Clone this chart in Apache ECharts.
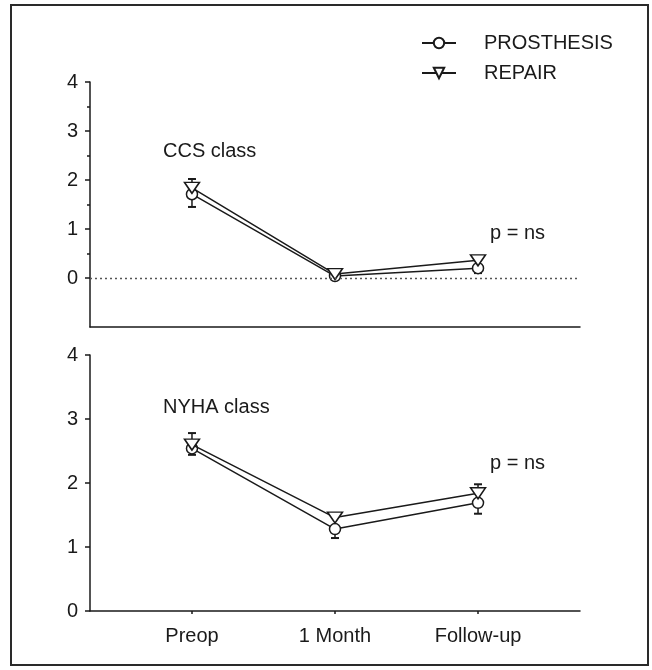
<!DOCTYPE html>
<html><head><meta charset="utf-8">
<script src="https://cdn.jsdelivr.net/npm/echarts@6/dist/echarts.min.js"></script>
<style>html,body{margin:0;padding:0;background:#fff}#c{width:652px;height:670px}</style>
</head><body><div id="c"></div>
<script>
const categories = ['Preop', '1 Month', 'Follow-up'];
const yTickValues = [0, 1, 2, 3, 4];
const yMinorTickValues = [0.5, 1.5, 2.5, 3.5];
const seriesNames = ['PROSTHESIS', 'REPAIR'];
const ccsProsthesis = [1.71, 0.04, 0.20];
const ccsProsthesisErr = [0.26, 0.03, 0.10];
const ccsRepair = [1.84, 0.08, 0.36];
const ccsRepairErr = [0.18, 0.03, 0.08];
const nyhaProsthesis = [2.54, 1.28, 1.69];
const nyhaProsthesisErr = [0.10, 0.14, 0.17];
const nyhaRepair = [2.60, 1.46, 1.84];
const nyhaRepairErr = [0.18, 0.05, 0.14];
const panelLabels = ['CCS class', 'NYHA class'];
const pLabel = 'p = ns';

const FONT = '"Liberation Sans", Arial, sans-serif';
const INK = '#1a1a1a';

const chart = echarts.init(document.getElementById('c'), null, {renderer: 'canvas'});

function pts(vals) { return categories.map((c, i) => [i, vals[i]]); }
function errPts(vals, errs, sign) { return categories.map((c, i) => [i, vals[i], sign * errs[i]]); }

function errRender(params, api) {
  const x = api.value(0), y = api.value(1), e = api.value(2);
  const p0 = api.coord([x, y]);
  const p1 = api.coord([x, y + e]);
  const hw = 4;
  return {
    type: 'group',
    children: [
      {type: 'line', shape: {x1: p0[0], y1: p0[1], x2: p1[0], y2: p1[1]}, style: {stroke: INK, lineWidth: 1.5}},
      {type: 'line', shape: {x1: p1[0] - hw, y1: p1[1], x2: p1[0] + hw, y2: p1[1]}, style: {stroke: INK, lineWidth: 2}}
    ]
  };
}

function lineSeries(name, vals, gi, extra) {
  const isRepair = name === 'REPAIR';
  return Object.assign({
    name: name,
    type: 'line',
    xAxisIndex: gi, yAxisIndex: gi * 2,
    data: pts(vals),
    symbol: isRepair ? 'triangle' : 'circle',
    symbolRotate: isRepair ? 180 : 0,
    symbolSize: isRepair ? [15, 11] : 11,
    showAllSymbol: true,
    z: isRepair ? 4 : 3,
    itemStyle: {color: '#fff', borderColor: INK, borderWidth: 1.5},
    lineStyle: {color: INK, width: 1.5},
    emphasis: {disabled: true},
    animation: false
  }, extra || {});
}

function errSeries(vals, errs, sign, gi) {
  return {
    type: 'custom',
    xAxisIndex: gi, yAxisIndex: gi * 2,
    renderItem: errRender,
    data: errPts(vals, errs, sign),
    encode: {x: 0, y: 1},
    z: 2,
    silent: true,
    animation: false
  };
}

const xBase = {
  type: 'value', min: -0.713, max: 2.713,
  splitLine: {show: false},
  axisLine: {onZero: false, lineStyle: {color: INK, width: 1.5}}
};

const yBase = {
  type: 'value',
  position: 'left',
  splitLine: {show: false},
  axisLine: {onZero: false, show: true, lineStyle: {color: INK, width: 1.5}},
  axisTick: {show: true, length: 5, lineStyle: {color: INK, width: 1.5}, customValues: yTickValues},
  axisLabel: {customValues: yTickValues, fontSize: 20, fontFamily: FONT, color: INK, margin: 12}
};

const option = {
  backgroundColor: '#fff',
  animation: false,
  grid: [
    {left: 90, top: 82, width: 490, height: 245},
    {left: 90, top: 355, width: 490, height: 256}
  ],
  xAxis: [
    Object.assign({}, xBase, {gridIndex: 0, axisTick: {show: false}, axisLabel: {show: false}}),
    Object.assign({}, xBase, {
      gridIndex: 1,
      axisTick: {show: true, length: 3, lineStyle: {color: INK, width: 1.5}, customValues: [0, 1, 2]},
      axisLabel: {customValues: [0, 1, 2], formatter: v => categories[Math.round(v)] || '', fontSize: 20, fontFamily: FONT, color: INK, margin: 15}
    })
  ],
  yAxis: [
    Object.assign({}, yBase, {gridIndex: 0, min: -1, max: 4}),
    {type: 'value', gridIndex: 0, position: 'left', min: -1, max: 4, splitLine: {show: false},
     axisLine: {show: false, onZero: false},
     axisTick: {show: true, length: 3, lineStyle: {color: INK, width: 1.5}, customValues: yMinorTickValues},
     axisLabel: {show: false}},
    Object.assign({}, yBase, {gridIndex: 1, min: 0, max: 4}),
    {type: 'value', gridIndex: 1, position: 'left', min: 0, max: 4, show: false}
  ],
  legend: {
    data: seriesNames,
    orient: 'vertical',
    left: 416, top: 28,
    itemWidth: 34, itemHeight: 13, itemGap: 10,
    selectedMode: false,
    textStyle: {fontSize: 20, fontFamily: FONT, color: INK, padding: [0, 0, 0, 23]}
  },
  series: [
    errSeries(ccsProsthesis, ccsProsthesisErr, -1, 0),
    errSeries(ccsRepair, ccsRepairErr, 1, 0),
    errSeries(nyhaProsthesis, nyhaProsthesisErr, -1, 1),
    errSeries(nyhaRepair, nyhaRepairErr, 1, 1),
    lineSeries('PROSTHESIS', ccsProsthesis, 0, {
      markLine: {
        silent: true, symbol: ['none', 'none'], animation: false,
        label: {show: false},
        lineStyle: {type: [2, 3], color: '#555', width: 1.3},
        emphasis: {disabled: true},
        data: [{yAxis: 0}]
      }
    }),
    lineSeries('REPAIR', ccsRepair, 0),
    lineSeries('PROSTHESIS', nyhaProsthesis, 1),
    lineSeries('REPAIR', nyhaRepair, 1)
  ],
  graphic: [
    {type: 'rect', shape: {x: 11, y: 5, width: 637, height: 660}, style: {fill: null, stroke: '#2a2a2a', lineWidth: 2}, silent: true},
    {type: 'text', left: 163, top: 141, style: {text: panelLabels[0], font: '20px ' + FONT, fill: INK}},
    {type: 'text', left: 163, top: 397, style: {text: panelLabels[1], font: '20px ' + FONT, fill: INK}},
    {type: 'text', left: 490, top: 223, style: {text: pLabel, font: '20px ' + FONT, fill: INK}},
    {type: 'text', left: 490, top: 453, style: {text: pLabel, font: '20px ' + FONT, fill: INK}}
  ]
};
chart.setOption(option);
</script>
</body></html>
